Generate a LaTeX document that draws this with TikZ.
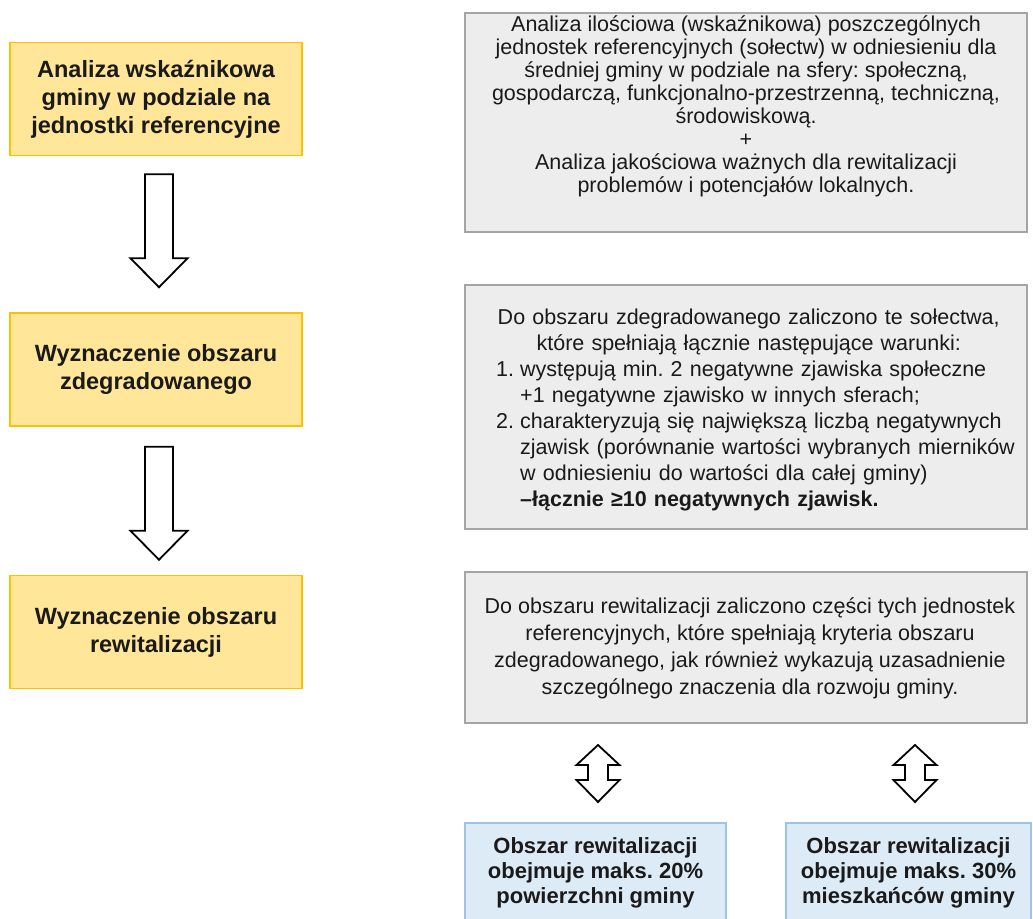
\documentclass[tikz,border=0pt]{standalone}
\usepackage{fontspec}
\setmainfont{Liberation Sans}
\usetikzlibrary{calc}
\definecolor{ylwfill}{HTML}{FFE699}
\definecolor{ylwline}{HTML}{FFC000}
\definecolor{gryfill}{HTML}{EDEDED}
\definecolor{gryline}{HTML}{A5A5A5}
\definecolor{blufill}{HTML}{DDEBF7}
\definecolor{bluline}{HTML}{9DC3E6}
\definecolor{txt}{HTML}{1A1A1A}
\frenchspacing
\begin{document}
\begin{tikzpicture}[x=1pt,y=-1pt,
  ybox/.style={draw=ylwline, fill=ylwfill, line width=1.5pt, minimum width=292pt, minimum height=113pt,
    inner sep=0pt, align=center, text=txt, font=\fontsize{23.5}{28}\selectfont\bfseries},
  gbox/.style={draw=gryline, fill=gryfill, line width=1.5pt, minimum width=562pt, inner sep=0pt},
  gtext/.style={inner sep=0pt, text=txt, align=center},
  bbox/.style={draw=bluline, fill=blufill, line width=1.5pt, minimum height=100pt, inner sep=0pt,
    align=center, text=txt, font=\fontsize{22}{25}\selectfont\bfseries},
  blockarrow/.style={draw=black, fill=white, line width=1.8pt, line join=miter},
  pics/downblock/.style={code={
    \draw[blockarrow] (-14,0) -- (14,0) -- (14,84) -- (28.5,84) -- (0,113) -- (-28.5,84) -- (-14,84) -- cycle;}},
  pics/updownblock/.style={code={
    \draw[blockarrow] (0,0) -- (21.5,20) -- (10,20) -- (10,35) -- (21.5,35) -- (0,57)
      -- (-21.5,35) -- (-10,35) -- (-10,20) -- (-21.5,20) -- cycle;}}
]
\useasboundingbox (0,0) rectangle (1033,918);

% left column
\node[ybox] (y1) at (156,99) {Analiza wskaźnikowa\\gminy w podziale na\\jednostki referencyjne};
\node[ybox] (y2) at (156,369.5) {Wyznaczenie obszaru\\zdegradowanego};
\node[ybox] (y3) at (156,632) {Wyznaczenie obszaru\\rewitalizacji};

\pic at ($(y1.south)+(3,18)$) {downblock};
\pic at ($(y2.south)+(3,20)$) {downblock};

% right column
\node[gbox, minimum height=219pt] (g1) at (746,122.5) {};
\node[gtext, font=\fontsize{21.5}{23}\selectfont] (g1t) at (746,106)
 {Analiza ilościowa (wskaźnikowa) poszczególnych\\
  jednostek referencyjnych (sołectw) w odniesieniu dla\\
  średniej gminy w podziale na sfery: społeczną,\\
  gospodarczą, funkcjonalno-przestrzenną, techniczną,\\
  środowiskową.\\
  +\\
  Analiza jakościowa ważnych dla rewitalizacji\\
  problemów i potencjałów lokalnych.};

\node[gbox, minimum height=244pt] (g2) at (746,407) {};
\node[gtext, align=left, text width=560pt, anchor=west, font=\fontsize{21.5}{26}\selectfont] (g2t) at (486,410)
 {\makebox[525pt][c]{Do obszaru zdegradowanego zaliczono te sołectwa,}\\
  \makebox[525pt][c]{które spełniają łącznie następujące warunki:}\\
  \hspace*{10pt}\makebox[24pt][l]{1.}występują min. 2 negatywne zjawiska społeczne\\
  \hspace*{34pt}+1 negatywne zjawisko w innych sferach;\\
  \hspace*{10pt}\makebox[24pt][l]{2.}charakteryzują się największą liczbą negatywnych\\
  \hspace*{34pt}zjawisk (porównanie wartości wybranych mierników\\
  \hspace*{34pt}w odniesieniu do wartości dla całej gminy)\\
  \hspace*{34pt}\textbf{–łącznie ≥10 negatywnych zjawisk.}};

\node[gbox, minimum height=151pt] (g3) at (746,647.5) {};
\node[gtext, font=\fontsize{21.5}{27}\selectfont] (g3t) at (750,648)
 {Do obszaru rewitalizacji zaliczono części tych jednostek\\
  referencyjnych, które spełniają kryteria obszaru\\
  zdegradowanego, jak również wykazują uzasadnienie\\
  szczególnego znaczenia dla rozwoju gminy.};

\pic at (598,745) {updownblock};
\pic at (915,745) {updownblock};

\node[bbox, minimum width=261pt] (b1) at (595.5,873) {Obszar rewitalizacji\\obejmuje maks. 20\%\\powierzchni gminy};
\node[bbox, minimum width=245pt] (b2) at (908.5,873) {Obszar rewitalizacji\\obejmuje maks. 30\%\\mieszkańców gminy};
\end{tikzpicture}
\end{document}
